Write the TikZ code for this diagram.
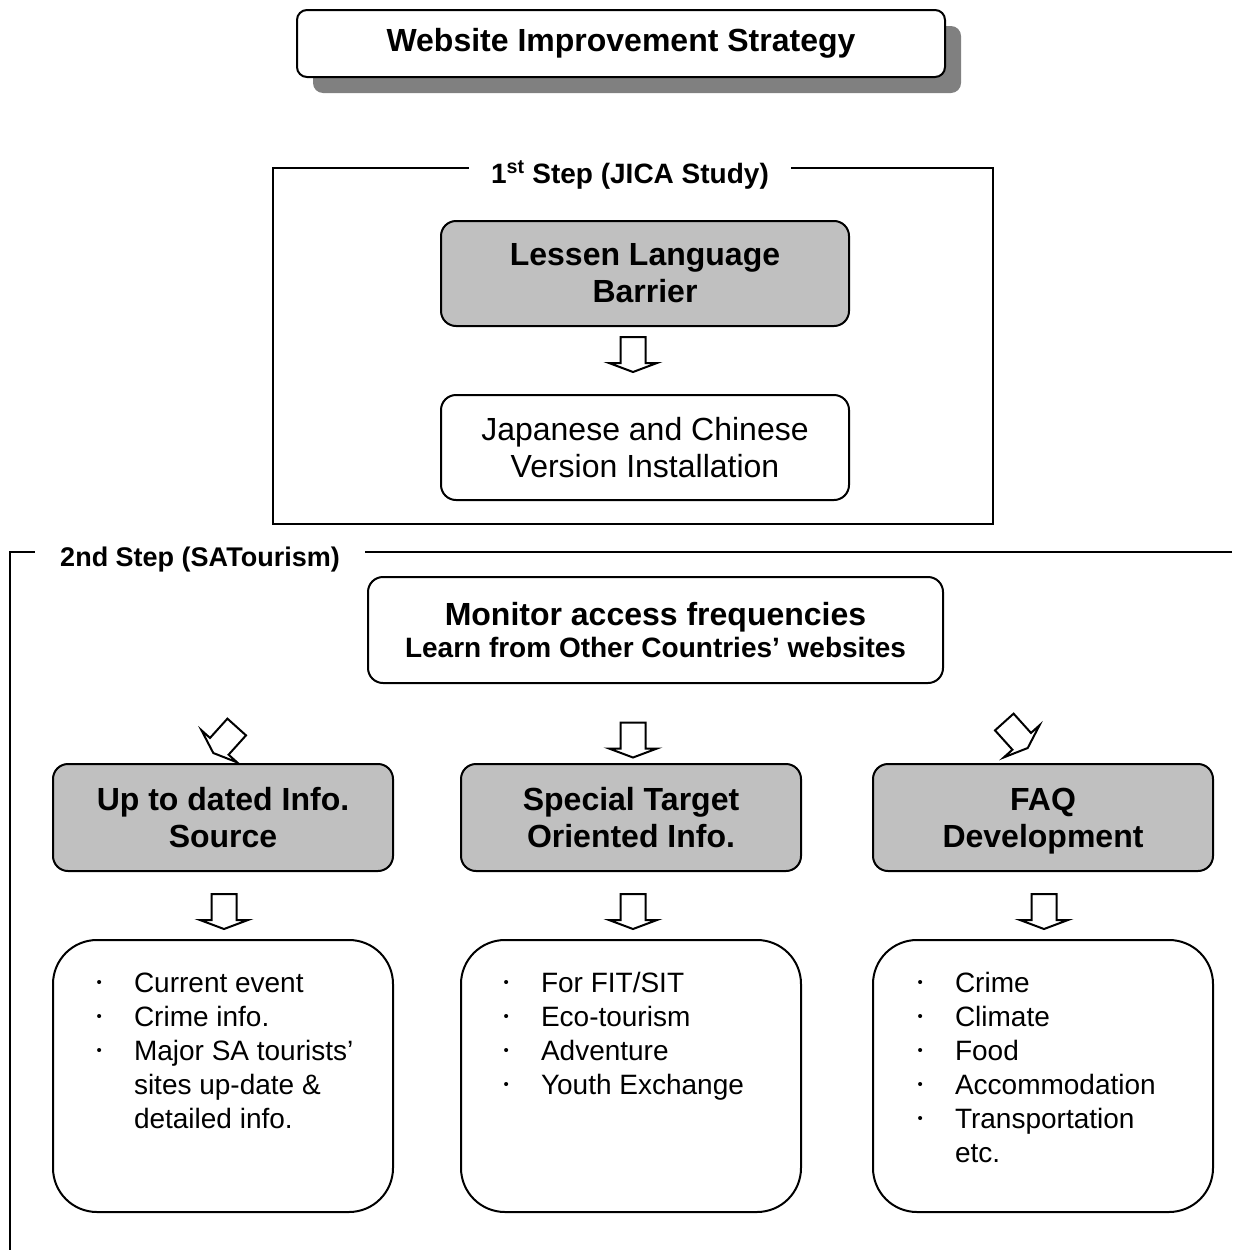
\documentclass[tikz,border=0pt]{standalone}
\usepackage{fontspec}
\setmainfont{Liberation Sans}
\usetikzlibrary{shadows}
\definecolor{boxgray}{RGB}{192,192,192}
\definecolor{shadowgray}{RGB}{128,128,128}
\newcommand\mybul{\makebox[39pt][l]{\hspace{1.5pt}\raisebox{4.5pt}{\fontsize{15}{15}\selectfont •}}}
\begin{document}
\begin{tikzpicture}[x=1pt,y=-1pt,
  line width=2pt,
  frame/.style={draw, line width=2pt},
  box/.style={draw, line width=2pt, rounded corners=15pt, align=center, inner sep=0pt},
  graybox/.style={box, fill=boxgray},
  bigfont/.style={font=\fontsize{32}{37}\selectfont},
  bigbold/.style={font=\fontsize{32}{37}\selectfont\bfseries},
  labelfont/.style={font=\fontsize{28}{33}\selectfont\bfseries, fill=white, inner ysep=0pt},
  listtext/.style={font=\fontsize{28}{34}\selectfont, inner sep=0pt, anchor=base west},
  blockarrow/.pic={\draw[line width=2pt, fill=white, line join=miter]
     (-12.5,-17.5) -- (12.5,-17.5) -- (12.5,8.5) -- (24,8.5) -- (0,17.5) -- (-24,8.5) -- (-12.5,8.5) -- cycle;}
]
\useasboundingbox (0,0) rectangle (1232,1250);

% title
\node[box, rounded corners=10pt, fill=white, minimum width=648pt, minimum height=67pt,
  font=\fontsize{32}{37}\selectfont\bfseries,
  general shadow={fill=shadowgray, shadow xshift=16pt, shadow yshift=-16pt}]
  (title) at (621,43.5) {Website Improvement Strategy};

% 1st step frame
\draw[frame] (273,168) rectangle (993,524);
\node[labelfont, inner xsep=22pt] (s1) at (630,175) {1\textsuperscript{st} Step (JICA Study)};
\node[graybox, bigbold, minimum width=408pt, minimum height=105pt] (lessen) at (645,273.5) {Lessen Language\\Barrier};
\node[box, bigfont, minimum width=408pt, minimum height=105pt] (japan) at (645,447.5) {Japanese and Chinese\\Version Installation};
\pic (a0) at (633,354.5) {blockarrow};

% 2nd step frame
\draw[frame] (1232,552) -- (10,552) -- (10,1250);
\node[labelfont, font=\fontsize{27}{32}\selectfont\bfseries, inner xsep=25pt] (s2) at (200,560) {2nd Step (SATourism)};

\node[box, minimum width=575pt, minimum height=106pt] (monitor) at (655.5,630) {};
\node[align=center, font=\bfseries, inner sep=0pt] (monitortext) at (monitor.center)
  {\fontsize{32}{35}\selectfont Monitor access frequencies\\[5pt]\fontsize{28}{35}\selectfont Learn from Other Countries’ websites};

\pic[rotate=-42] (a1) at (225,740) {blockarrow};
\pic (a2) at (633,740) {blockarrow};
\pic[rotate=42] (a3) at (1016,735) {blockarrow};

\node[graybox, bigbold, minimum width=340pt, minimum height=107pt] (g1) at (223,817.5) {Up to dated Info.\\Source};
\node[graybox, bigbold, minimum width=340pt, minimum height=107pt] (g2) at (631,817.5) {Special Target\\Oriented Info.};
\node[graybox, bigbold, minimum width=340pt, minimum height=107pt] (g3) at (1043,817.5) {FAQ\\Develo\smash{p}ment};

\pic (b1) at (224,911.5) {blockarrow};
\pic (b2) at (633,911.5) {blockarrow};
\pic (b3) at (1044,911.5) {blockarrow};

\node[box, rounded corners=44pt, minimum width=340pt, minimum height=272pt] (l1) at (223,1076) {};
\node[box, rounded corners=44pt, minimum width=340pt, minimum height=272pt] (l2) at (631,1076) {};
\node[box, rounded corners=44pt, minimum width=340pt, minimum height=272pt] (l3) at (1043,1076) {};

\node[listtext] (t1) at (94,992) {\begin{tabular}[t]{@{}l@{}l@{}}
\mybul & Current event\\
\mybul & Crime info.\\
\mybul & Major SA tourists’\\
 & sites up-date \&\\
 & detailed info.\end{tabular}};
\node[listtext] (t2) at (501,992) {\begin{tabular}[t]{@{}l@{}l@{}}
\mybul & For FIT/SIT\\
\mybul & Eco-tourism\\
\mybul & Adventure\\
\mybul & Youth Exchange\end{tabular}};
\node[listtext] (t3) at (915,992) {\begin{tabular}[t]{@{}l@{}l@{}}
\mybul & Crime\\
\mybul & Climate\\
\mybul & Food\\
\mybul & Accommodation\\
\mybul & Transportation\\
 & etc.\end{tabular}};
\end{tikzpicture}
\end{document}
